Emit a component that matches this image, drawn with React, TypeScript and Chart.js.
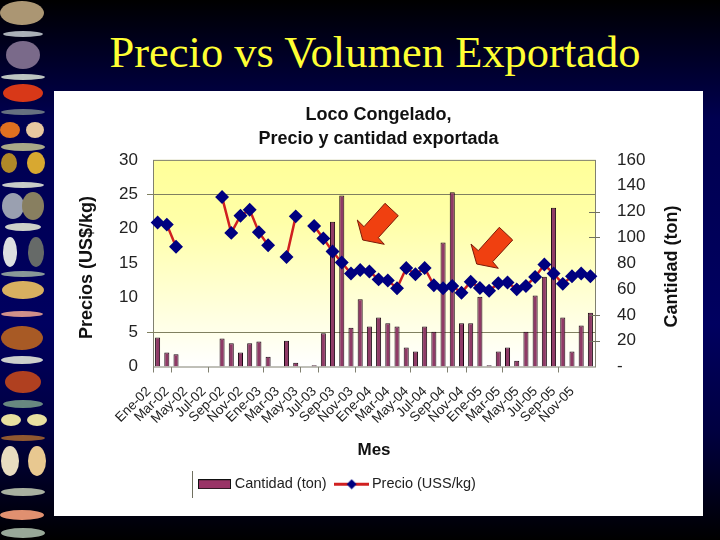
import React, { useEffect, useRef } from "react";
import { Chart, registerables } from "chart.js";

Chart.register(...registerables);

const SANS = '"Liberation Sans", Arial, sans-serif';
const slideTitle = "Precio vs Volumen Exportado";
const chartTitle = ["Loco Congelado,", "Precio y cantidad exportada"];
const leftAxisTitle = "Precios (US$/kg)";
const rightAxisTitle = "Cantidad (ton)";

const months = [
  "Ene-02","Feb-02","Mar-02","Abr-02","May-02","Jun-02","Jul-02","Ago-02","Sep-02","Oct-02","Nov-02","Dic-02",
  "Ene-03","Feb-03","Mar-03","Abr-03","May-03","Jun-03","Jul-03","Ago-03","Sep-03","Oct-03","Nov-03","Dic-03",
  "Ene-04","Feb-04","Mar-04","Abr-04","May-04","Jun-04","Jul-04","Ago-04","Sep-04","Oct-04","Nov-04","Dic-04",
  "Ene-05","Feb-05","Mar-05","Abr-05","May-05","Jun-05","Jul-05","Ago-05","Sep-05","Oct-05","Nov-05","Dic-05",
];

const cantidad = [
  22.4, 10.8, 9.5, null, null, null, null, 21.6, 18, 10.8, 18, 19.3,
  7.5, null, 20, 3, null, 1, 25.8, 112, 132.4, 30, 52, 31,
  38, 33.5, 31, 14.7, 11.6, 31, 27, 96, 135, 33.5, 33.5, 54,
  1, 11.6, 14.7, 4.4, 27, 55, 69.5, 123, 38, 11.6, 31.7, 41.7,
];

const precio = [
  20.9, 20.6, 17.4, null, null, null, null, 24.6, 19.4, 21.9, 22.75, 19.5,
  17.6, null, 15.9, 21.8, null, 20.4, 18.6, 16.7, 15.1, 13.5, 14, 13.8,
  12.65, 12.5, 11.35, 14.3, 13.4, 14.3, 11.8, 11.35, 11.7, 10.7, 12.3, 11.4,
  11, 12.1, 12.2, 11.2, 11.7, 13, 14.8, 13.5, 12, 13.1, 13.5, 13.1,
];

const leftVisibleGrid = [25, 5];
const rightVisibleTicks = [120, 100, 40, 20];
const xVisibleTicks = [0, 2, 6, 12, 16, 18, 22, 28, 32, 34, 38, 44];

const arrows = [
  "357.3,220 362.7,240 384.3,244.3 378.3,237.7 398.3,215.7 385,203.3 364,226.7",
  "471,244 476.7,264 498.3,268.3 492.7,261.7 512.7,240 499.3,227.3 478.3,250.7",
];

// Rough stand-ins for the strip of seafood pictures on the slide's left side: [cx, cy, rx, ry, colour]
const strip: [number, number, number, number, string][] = [
  [22, 13, 22, 12, "#ab9673"], [23, 34, 20, 3, "#aab0b8"], [23, 55, 17, 14, "#7a6a8a"], [23, 77, 22, 3, "#bcc4c0"],
  [23, 93, 20, 9, "#d83818"], [23, 112, 22, 3, "#667080"], [10, 130, 10, 8, "#e07020"], [35, 130, 9, 8, "#e8c8a0"],
  [23, 147, 22, 4, "#a8a888"], [9, 163, 8, 10, "#b08828"], [36, 163, 9, 11, "#d8a830"], [23, 185, 21, 3, "#c8ccc8"],
  [13, 206, 11, 13, "#9aa0b0"], [33, 206, 11, 14, "#887f60"], [23, 227, 18, 4, "#ccd0c8"], [10, 252, 7, 15, "#dde0e0"],
  [36, 252, 8, 15, "#666a68"], [23, 274, 22, 3, "#889898"], [23, 290, 21, 9, "#d8b060"], [22, 314, 21, 3, "#d0908a"],
  [22, 338, 21, 12, "#a85a25"], [22, 360, 21, 4, "#ccd0cc"], [23, 382, 18, 11, "#b04020"], [23, 404, 20, 4, "#688880"],
  [11, 420, 10, 6, "#e8e0a0"], [37, 420, 10, 6, "#e8e0a0"], [23, 438, 22, 3, "#905830"], [10, 461, 9, 15, "#e8dcc0"],
  [37, 461, 9, 15, "#e8c890"], [23, 492, 22, 4, "#a8b0a0"], [22, 515, 22, 5, "#e09070"], [23, 533, 22, 5, "#98a898"],
];

function barSymbol() {
  const c = document.createElement("canvas");
  c.width = 33; c.height = 10;
  const g = c.getContext("2d")!;
  g.fillStyle = "#993366";
  g.fillRect(0, 0, 33, 10);
  g.strokeStyle = "#111";
  g.strokeRect(0.5, 0.5, 32, 9);
  return c;
}

function lineSymbol() {
  const c = document.createElement("canvas");
  c.width = 35; c.height = 11;
  const g = c.getContext("2d")!;
  g.fillStyle = "#d02020";
  g.fillRect(0, 4, 35, 3);
  g.fillStyle = "#000080";
  g.beginPath();
  g.moveTo(17.5, 0.5); g.lineTo(22.5, 5.5); g.lineTo(17.5, 10.5); g.lineTo(12.5, 5.5);
  g.closePath(); g.fill();
  return c;
}

function verticalText(ctx: any, text: string, x: number, y: number) {
  ctx.save();
  ctx.translate(x, y);
  ctx.rotate(-Math.PI / 2);
  ctx.font = `bold 18px ${SANS}`;
  ctx.fillStyle = "#111";
  ctx.textAlign = "center";
  ctx.textBaseline = "middle";
  ctx.fillText(text, 0, 0);
  ctx.restore();
}

const framePlugin = {
  id: "frame",
  afterLayout(chart: any) {
    chart.legend.left = 135.5;
    chart.legend.top = 374;
  },
  beforeDraw(chart: any) {
    const { ctx, chartArea: a } = chart;
    const grad = ctx.createLinearGradient(0, a.top, 0, a.bottom);
    grad.addColorStop(0, "#ffff99");
    grad.addColorStop(0.3, "#ffffa8");
    grad.addColorStop(1, "#ffffff");
    ctx.save();
    ctx.fillStyle = grad;
    ctx.fillRect(a.left, a.top, a.right - a.left, a.bottom - a.top);
    ctx.strokeStyle = "#808070";
    ctx.lineWidth = 1;
    ctx.strokeRect(a.left + 0.5, a.top + 0.5, a.right - a.left, a.bottom - a.top);
    ctx.restore();
  },
  afterDraw(chart: any) {
    const { ctx, chartArea: a, scales } = chart;
    ctx.save();
    ctx.strokeStyle = "#707060";
    ctx.lineWidth = 1;
    ctx.beginPath();
    rightVisibleTicks.forEach((v) => {
      const y = Math.round(scales.y1.getPixelForValue(v)) + 0.5;
      ctx.moveTo(a.right - 6, y);
      ctx.lineTo(a.right + 5, y);
    });
    ctx.moveTo(138.5, 380);
    ctx.lineTo(138.5, 407);
    ctx.stroke();
    ctx.restore();
    verticalText(ctx, leftAxisTitle, 33, 176.5);
    verticalText(ctx, rightAxisTitle, 618, 175.5);
  },
};

export default function App() {
  const ref = useRef<HTMLCanvasElement>(null);

  useEffect(() => {
    document.body.style.margin = "0";
    const symbols = [barSymbol(), lineSymbol()];
    const chart = new Chart(ref.current!, {
      type: "bar",
      plugins: [framePlugin],
      data: {
        labels: months,
        datasets: [
          {
            type: "line",
            label: "Precio (USS/kg)",
            data: precio,
            yAxisID: "y",
            borderColor: "#d02020",
            borderWidth: 2.5,
            backgroundColor: "#000080",
            pointBackgroundColor: "#000080",
            pointBorderColor: "#000080",
            pointStyle: "rectRot",
            pointRadius: 5.2,
            spanGaps: false,
            order: 1,
          },
          {
            type: "bar",
            label: "Cantidad (ton)",
            data: cantidad,
            yAxisID: "y1",
            backgroundColor: "#8f3a66",
            borderColor: "#1c0a14",
            borderWidth: 1,
            barPercentage: 0.55,
            categoryPercentage: 1,
            order: 2,
          },
        ],
      } as any,
      options: {
        responsive: false,
        animation: false,
        devicePixelRatio: 1,
        layout: { padding: { top: 0, left: 0, right: 0, bottom: 19 } },
        plugins: {
          title: {
            display: true,
            text: chartTitle,
            color: "#111",
            font: { family: SANS, size: 18, weight: "bold", lineHeight: 1.33 },
            padding: { top: 12, bottom: 9 },
          },
          legend: {
            position: "bottom",
            align: "start",
            labels: {
              usePointStyle: true,
              pointStyleWidth: 26,
              boxHeight: 10,
              padding: 12,
              color: "#222",
              font: { family: SANS, size: 14.5 },
              generateLabels: () => [
                { text: "Cantidad (ton)", pointStyle: symbols[0], datasetIndex: 1, fontColor: "#222" },
                { text: "Precio (USS/kg)", pointStyle: symbols[1], datasetIndex: 0, fontColor: "#222" },
              ],
            },
          },
          tooltip: { enabled: false },
        },
        scales: {
          x: {
            offset: true,
            afterFit: (s: any) => { s.height = 94; },
            grid: {
              offset: true,
              drawOnChartArea: false,
              tickLength: 6,
              tickColor: (c: any) => (xVisibleTicks.includes(c.index) ? "#808070" : "transparent"),
            },
            border: { display: false },
            title: {
              display: true,
              text: "Mes",
              color: "#111",
              font: { family: SANS, size: 17, weight: "bold" },
              padding: { top: 0, bottom: 0 },
            },
            ticks: {
              autoSkip: false,
              minRotation: 45,
              maxRotation: 45,
              labelOffset: -9,
              padding: 11,
              color: "#222",
              font: { family: SANS, size: 13.5 },
              callback: (_v: any, i: number) => (i % 2 === 0 ? months[i] : ""),
            },
          },
          y: {
            position: "left",
            min: 0,
            max: 30,
            afterFit: (s: any) => { s.width = 99; },
            grid: {
              color: (c: any) => (leftVisibleGrid.includes(c.tick.value) ? "#808060" : "transparent"),
              tickColor: (c: any) => (leftVisibleGrid.includes(c.tick.value) ? "#808060" : "transparent"),
              tickLength: 6,
            },
            border: { display: false },
            ticks: {
              stepSize: 5,
              padding: 9,
              color: "#222",
              font: { family: SANS, size: 17 },
            },
          },
          y1: {
            position: "right",
            min: 0,
            max: 160,
            afterFit: (s: any) => { s.width = 108; },
            grid: { display: false },
            border: { display: false },
            ticks: {
              stepSize: 20,
              padding: 14,
              color: "#222",
              font: { family: SANS, size: 17 },
              callback: (v: any) => (v === 0 ? "-" : v),
            },
          },
        },
      } as any,
    });
    return () => chart.destroy();
  }, []);

  return (
    <div
      style={{
        position: "absolute", left: 0, top: 0, width: 720, height: 540, overflow: "hidden",
        background: "linear-gradient(#000000 0%, #000050 22%, #000060 60%, #000040 80%, #000000 100%)",
      }}
    >
      <div
        style={{
          position: "absolute", left: 0, top: 26, width: 720, textAlign: "center", paddingLeft: 30, boxSizing: "border-box",
          fontFamily: '"Liberation Serif", serif', fontSize: 44.5, lineHeight: "52px", color: "#ffff33",
        }}
      >
        {slideTitle}
      </div>
      <div style={{ position: "absolute", left: 54, top: 91, width: 649, height: 425, background: "#fff" }}>
        <canvas ref={ref} width={649} height={425} style={{ display: "block", width: 649, height: 425 }} />
      </div>
      <svg width={720} height={540} style={{ position: "absolute", left: 0, top: 0, pointerEvents: "none" }}>
        {strip.map(([cx, cy, rx, ry, c], i) => (
          <ellipse key={i} cx={cx} cy={cy} rx={rx} ry={ry} fill={c} />
        ))}
        {arrows.map((p, i) => (
          <polygon key={i} points={p} fill="#f04010" stroke="#7a1a08" strokeWidth={1} />
        ))}
      </svg>
    </div>
  );
}
